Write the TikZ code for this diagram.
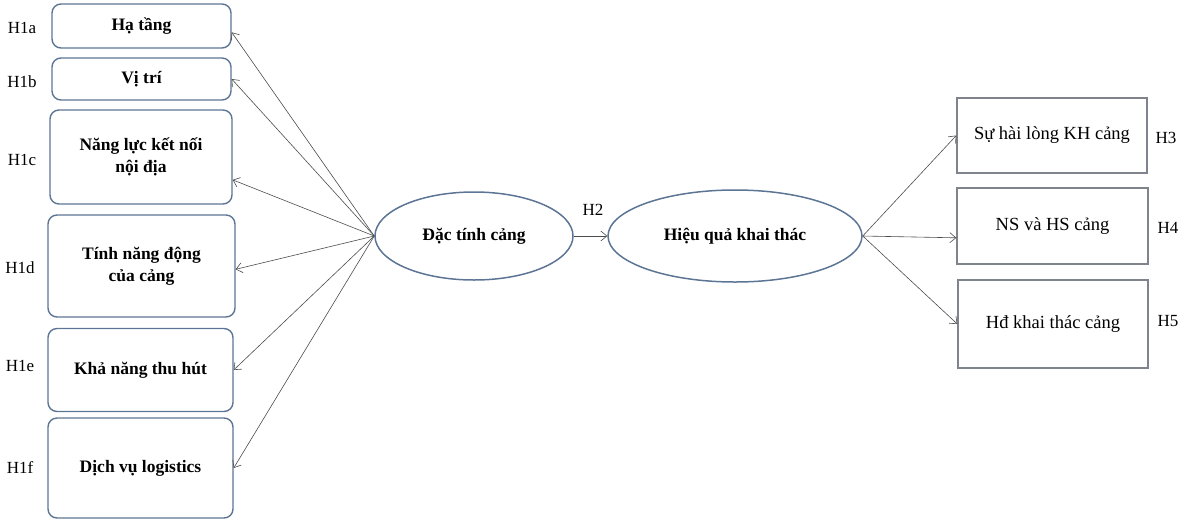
\documentclass[tikz,border=0pt]{standalone}
\usepackage{fontspec}
\setmainfont{Liberation Serif}
\usetikzlibrary{arrows.meta}
\usetikzlibrary{shapes}
\definecolor{framebl}{HTML}{5D7594}
\definecolor{framegr}{HTML}{7E838C}

\begin{document}
\begin{tikzpicture}[x={(1pt,0)},y={(0,-1pt)},
    factor/.style={draw=framebl, line width=1.4pt, rounded corners=9pt, inner sep=0pt, align=center, font=\fontsize{17.5}{22}\selectfont\bfseries},
    outcome/.style={draw=framegr, line width=1.4pt, inner sep=0pt, align=center, font=\fontsize{18.5}{22}\selectfont},
    construct/.style={ellipse, draw=framebl, line width=1.5pt, inner sep=0pt, font=\fontsize{17.5}{22}\selectfont\bfseries},
    hyp/.style={font=\fontsize{17}{20}\selectfont},
    link/.style={draw=black!70, line width=0.6pt, -{Straight Barb[length=6pt,width=10pt]}}]
        \useasboundingbox (0,0) rectangle (1182,520);

        % left factors
        \node [factor, minimum width=179pt, minimum height=44pt](f1) at (141.5,26){Hạ tầng};
        \node [factor, minimum width=179pt, minimum height=42pt](f2) at (141.5,79){Vị trí};
        \node [factor, minimum width=182pt, minimum height=94pt](f3) at (141,157){Năng lực kết nối\\nội địa};
        \node [factor, minimum width=187pt, minimum height=102pt](f4) at (141.5,266){Tính năng động\\của cảng};
        \node [factor, minimum width=185pt, minimum height=83pt](f5) at (140.5,370){Khả năng thu hút};
        \node [factor, minimum width=185pt, minimum height=100pt](f6) at (140.5,468){Dịch vụ logistics};

        \node [hyp](h1a) at (22,28){H1a};
        \node [hyp](h1b) at (22,82){H1b};
        \node [hyp](h1c) at (22,160){H1c};
        \node [hyp](h1d) at (20,268){H1d};
        \node [hyp](h1e) at (20,366){H1e};
        \node [hyp](h1f) at (20,468){H1f};

        % the two constructs
        \node [construct, minimum width=198pt, minimum height=88pt](c1) at (474,236){Đặc tính cảng};
        \node [construct, minimum width=254pt, minimum height=92pt](c2) at (735,236){Hiệu quả khai thác};
        \node [hyp](h2) at (593,210){H2};

        % right outcomes
        \node [outcome, minimum width=190pt, minimum height=75pt](o1) at (1052,135.5){Sự hài lòng KH cảng};
        \node [outcome, minimum width=191pt, minimum height=76pt](o2) at (1052.5,226){NS và HS cảng};
        \node [outcome, minimum width=190pt, minimum height=88pt](o3) at (1053,324){Hđ khai thác cảng};

        \node [hyp](h3) at (1166,138){H3};
        \node [hyp](h4) at (1168,228){H4};
        \node [hyp](h5) at (1168,321){H5};

        \draw [link] (c1.west) -- (f1.-4);
        \draw [link] (c1.west) -- (f2.east);
        \draw [link] (c1.west) -- (f3.-14);
        \draw [link] (c1.west) -- (f4.-2);
        \draw [link] (c1.west) -- (f5.east);
        \draw [link] (c1.west) -- (f6.east);
        \draw [link] (c1.east) -- (c2.west);
        \draw [link] (c2.east) -- (o1.west);
        \draw [link] (c2.east) -- (o2.187);
        \draw [link] (c2.east) -- (o3.west);
      \end{tikzpicture}
\end{document}
